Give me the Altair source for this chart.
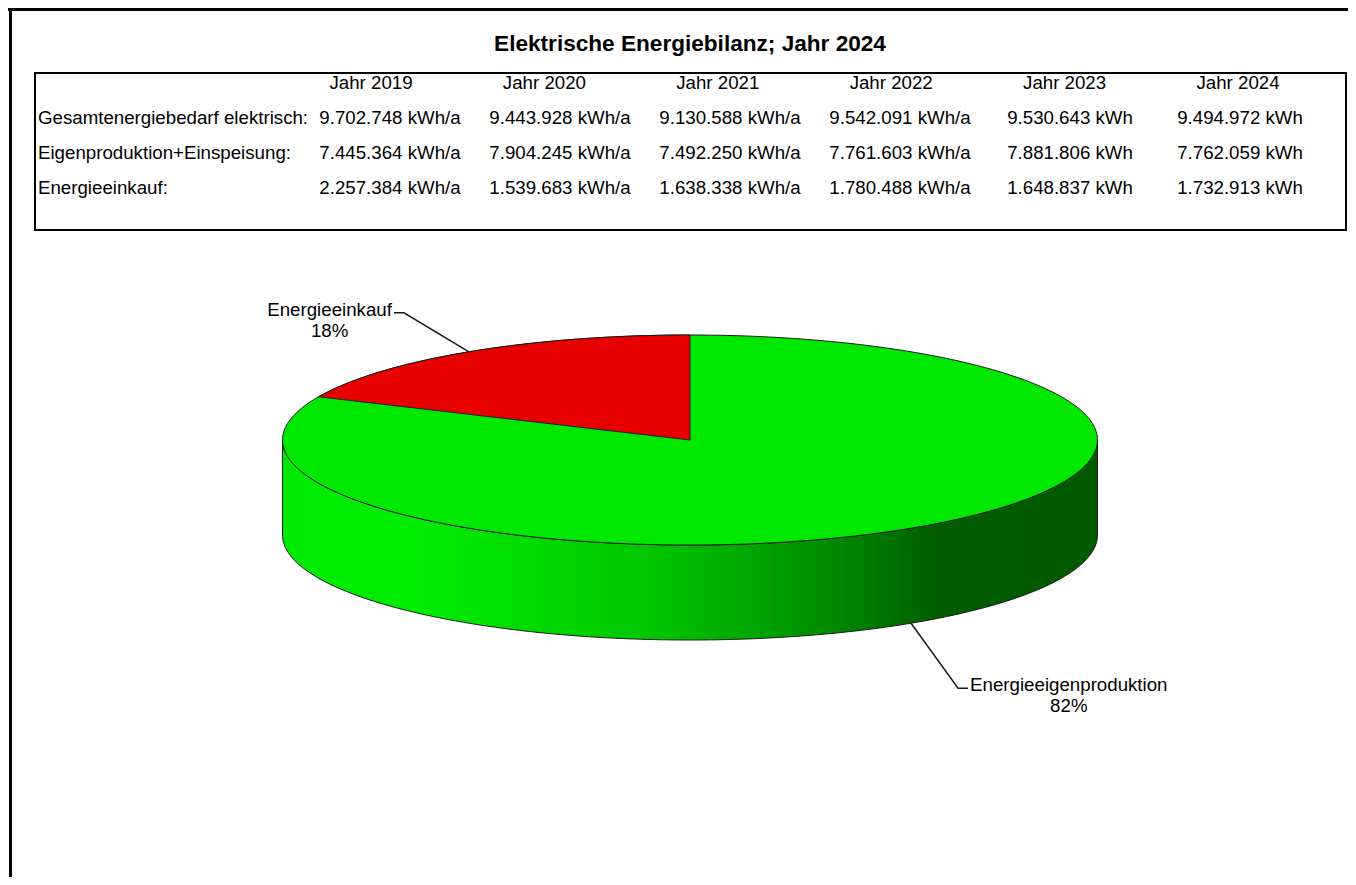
import altair as alt
import numpy as np
import pandas as pd

# ---------------- data ----------------
title_text = "Elektrische Energiebilanz; Jahr 2024"
years = ["Jahr 2019", "Jahr 2020", "Jahr 2021", "Jahr 2022", "Jahr 2023", "Jahr 2024"]
row_labels = ["Gesamtenergiebedarf elektrisch:", "Eigenproduktion+Einspeisung:", "Energieeinkauf:"]
bedarf = ["9.702.748 kWh/a", "9.443.928 kWh/a", "9.130.588 kWh/a", "9.542.091 kWh/a", "9.530.643 kWh", "9.494.972 kWh"]
eigen = ["7.445.364 kWh/a", "7.904.245 kWh/a", "7.492.250 kWh/a", "7.761.603 kWh/a", "7.881.806 kWh", "7.762.059 kWh"]
einkauf = ["2.257.384 kWh/a", "1.539.683 kWh/a", "1.638.338 kWh/a", "1.780.488 kWh/a", "1.648.837 kWh", "1.732.913 kWh"]

slice_names = ["Energieeinkauf", "Energieeigenproduktion"]
slice_values = [1732913, 7762059]          # 2024, kWh
slice_colors = ["#E80000", "#00E800"]

# ---------------- style ----------------
FONT = "Liberation Sans"
FS = 18.7
W, H = 1340, 869
RX_PX, RY_PX = 407.5, 105.0
CX, CY = 682.0, 432.0
DEPTH = 95.0 / RY_PX
OUTLINE = "#1a1a1a"
LEADER_PX = {"Energieeinkauf": (-65, -39), "Energieeigenproduktion": (47, 65)}
TAIL_PX = 10

ARIAL_W = {"E": .667, "n": .556, "e": .556, "r": .333, "g": .556, "i": .222, "k": .5,
           "a": .556, "u": .556, "f": .278, "p": .556, "o": .556, "d": .556, "t": .278}


def text_width(s):
    return sum(ARIAL_W.get(c, .556) for c in s) * FS


pie_xs = alt.Scale(domain=[-1, 1], range=[CX - RX_PX, CX + RX_PX], nice=False, zero=False)
pie_ys = alt.Scale(domain=[-1, 1], range=[CY + RY_PX, CY - RY_PX], nice=False, zero=False)


def PX(f):
    return alt.X(f, type="quantitative", scale=pie_xs, axis=None)


def PY(f):
    return alt.Y(f, type="quantitative", scale=pie_ys, axis=None)


# ---------------- pie geometry (derived from slice values) ----------------
total = sum(slice_values)
shares = [v / total for v in slice_values]
a1 = 2 * np.pi * shares[0]

phi = np.linspace(0, np.pi, 241)
u = -np.cos(phi)
top_df = pd.DataFrame({"u": u, "v1": np.sin(phi), "v2": -np.sin(phi)})
side_df = pd.DataFrame({"u": u, "v1": -np.sin(phi), "v2": -np.sin(phi) - DEPTH})

th = np.linspace(0, a1, 121)
red_df = pd.DataFrame({"u": -np.sin(th), "v1": np.cos(th),
                       "v2": np.sin(th) * np.cos(a1) / np.sin(a1)})

lead_rows, lab_rows = [], []
start = 0.0
for name, sh in zip(slice_names, shares):
    mid = 2 * np.pi * (start + sh / 2)
    start += sh
    eu, ev = -np.sin(mid), np.cos(mid)
    if ev < 0:
        ev -= DEPTH
    ox, oy = LEADER_PX[name]
    bu, bv = eu + ox / RX_PX, ev - oy / RY_PX
    sgn = 1 if ox > 0 else -1
    tu = bu + sgn * TAIL_PX / RX_PX
    for i, (pu, pv) in enumerate([(eu, ev), (bu, bv), (tu, bv)]):
        lead_rows.append({"slice": name, "step": i, "u": pu, "v": pv})
    cu = tu + sgn * (text_width(name) / 2 + 2) / RX_PX
    lab_rows.append({"slice": name, "u": cu, "v": bv,
                     "pct": f"{round(sh * 100):d}%"})
lead_df = pd.DataFrame(lead_rows)
lab_df = pd.DataFrame(lab_rows)

# ---------------- table data ----------------
hdr_df = pd.DataFrame({"col": range(len(years)), "row": 0, "txt": years})
val_rows = []
for r, vals in enumerate([bedarf, eigen, einkauf], start=1):
    for c, s in enumerate(vals):
        val_rows.append({"col": c, "row": r, "txt": s})
val_df = pd.DataFrame(val_rows)
lbl_df = pd.DataFrame({"row": [1, 2, 3], "txt": row_labels})

row_scale = alt.Scale(domain=[0, 3], range=[75, 180], nice=False, zero=False)

# ---------------- layers ----------------
border_left = alt.Chart(pd.DataFrame({"a": [0]})).mark_rule(color="black", strokeWidth=3).encode(
    x=alt.value(2.5), y=alt.value(0), y2=alt.value(H))
border_top = alt.Chart(pd.DataFrame({"a": [0]})).mark_rule(color="black", strokeWidth=3).encode(
    x=alt.value(0), x2=alt.value(W), y=alt.value(1.5))

title = alt.Chart(pd.DataFrame({"t": [title_text]})).mark_text(
    font=FONT, fontSize=22.6, fontWeight="bold", color="black", align="center", baseline="middle"
).encode(x=alt.value(682), y=alt.value(36), text="t:N")

table_box = alt.Chart(pd.DataFrame({"a": [0]})).mark_rect(
    fill="white", fillOpacity=0, stroke="black", strokeWidth=2
).encode(x=alt.value(27), x2=alt.value(W - 2), y=alt.value(65), y2=alt.value(222))

headers = alt.Chart(hdr_df).mark_text(font=FONT, fontSize=FS, color="black", align="center",
                                      baseline="middle").encode(
    x=alt.X("col:Q", scale=alt.Scale(domain=[0, 5], range=[363, 1230], nice=False, zero=False), axis=None),
    y=alt.Y("row:Q", scale=row_scale, axis=None),
    text="txt:N")

values = alt.Chart(val_df).mark_text(font=FONT, fontSize=FS, color="black", align="center",
                                     baseline="middle").encode(
    x=alt.X("col:Q", scale=alt.Scale(domain=[0, 5], range=[382, 1232], nice=False, zero=False), axis=None),
    y=alt.Y("row:Q", scale=row_scale, axis=None),
    text="txt:N")

labels = alt.Chart(lbl_df).mark_text(font=FONT, fontSize=FS, color="black", align="left",
                                     baseline="middle").encode(
    x=alt.value(30),
    y=alt.Y("row:Q", scale=row_scale, axis=None),
    text="txt:N")

side_grad = alt.LinearGradient(
    gradient="linear", x1=0, x2=1, y1=0, y2=0,
    stops=[alt.GradientStop(color="#00EA00", offset=0),
           alt.GradientStop(color="#00EE00", offset=0.15),
           alt.GradientStop(color="#00DC00", offset=0.3),
           alt.GradientStop(color="#00C600", offset=0.45),
           alt.GradientStop(color="#00A000", offset=0.6),
           alt.GradientStop(color="#007C00", offset=0.72),
           alt.GradientStop(color="#005E00", offset=0.8),
           alt.GradientStop(color="#005A00", offset=1)])

side = alt.Chart(side_df).mark_area(color=side_grad, stroke=OUTLINE, strokeWidth=1).encode(
    x=PX("u"), y=PY("v1"), y2="v2")
top = alt.Chart(top_df).mark_area(color=slice_colors[1], stroke=OUTLINE, strokeWidth=1).encode(
    x=PX("u"), y=PY("v1"), y2="v2")
red = alt.Chart(red_df).mark_area(color=slice_colors[0], stroke=OUTLINE, strokeWidth=1).encode(
    x=PX("u"), y=PY("v1"), y2="v2")

leaders = alt.Chart(lead_df).mark_line(color=OUTLINE, strokeWidth=1.5).encode(
    x=PX("u"), y=PY("v"), detail="slice:N", order="step:Q")

lab_name = alt.Chart(lab_df).mark_text(font=FONT, fontSize=FS, color="black", align="center",
                                       baseline="middle", dy=-3).encode(
    x=PX("u"), y=PY("v"), text="slice:N")
lab_pct = alt.Chart(lab_df).mark_text(font=FONT, fontSize=FS, color="black", align="center",
                                      baseline="middle", dy=18).encode(
    x=PX("u"), y=PY("v"), text="pct:N")

chart = alt.layer(
    border_left, border_top, title, table_box, headers, values, labels,
    side, top, red, leaders, lab_name, lab_pct
).resolve_scale(x="independent", y="independent").properties(
    width=W, height=H, autosize=alt.AutoSizeParams(type="none"), padding=0
).configure_view(stroke=None)

chart.save("out.html", embed_options={"renderer": "svg", "actions": False})
